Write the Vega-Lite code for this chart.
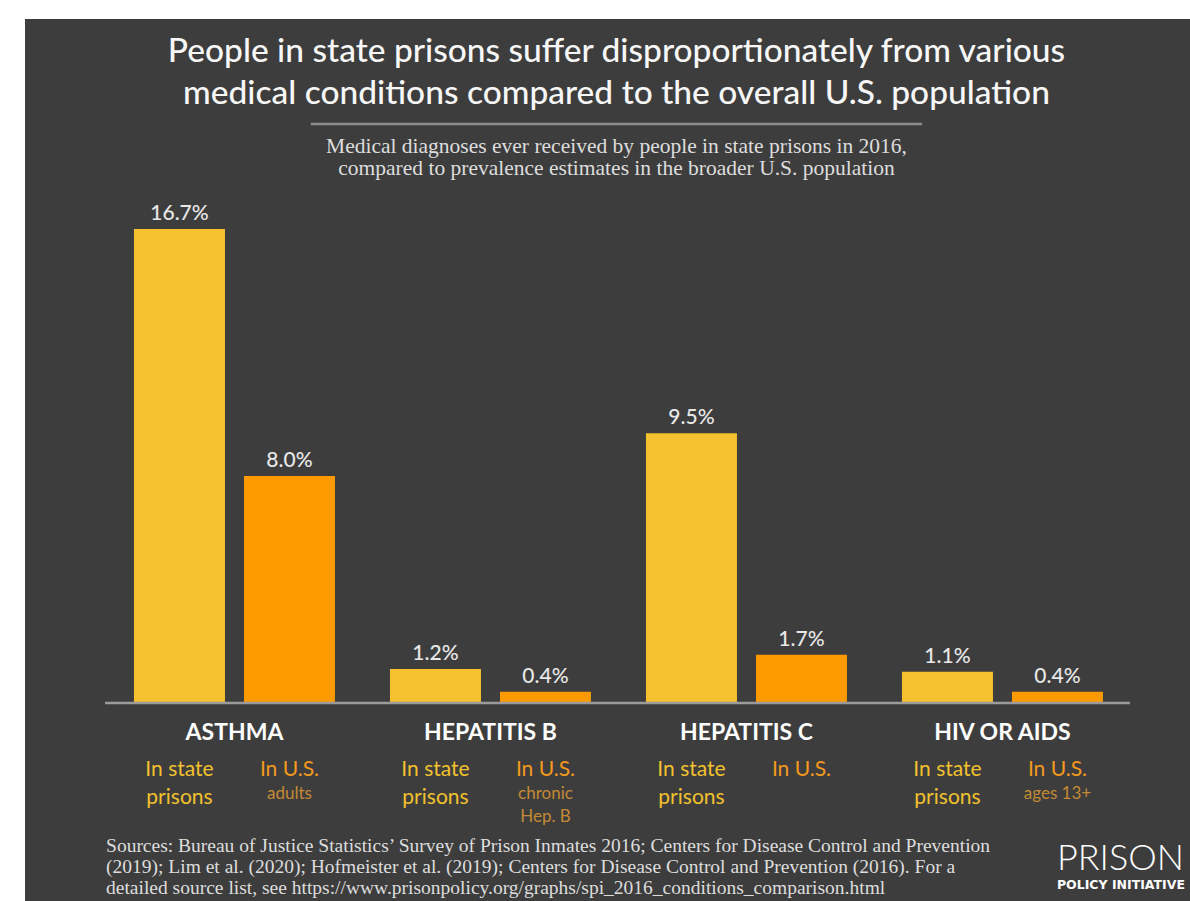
{
  "$schema": "https://vega.github.io/schema/vega-lite/v6.json",
  "width": 1165,
  "height": 882,
  "autosize": {"type": "none"},
  "padding": {"left": 25, "top": 19, "right": 0, "bottom": 0},
  "background": "#ffffff",
  "config": {"view": {"fill": "#3d3d3d", "stroke": null}, "font": "Lato"},
  "title": {
    "text": ["People in state prisons suffer disproportionately from various", "medical conditions compared to the overall U.S. population"],
    "subtitle": ["Medical diagnoses ever received by people in state prisons in 2016,", "compared to prevalence estimates in the broader U.S. population"],
    "anchor": "middle",
    "frame": "group",
    "offset": -161,
    "dx": 9,
    "font": "Lato",
    "fontSize": 33.5,
    "fontWeight": 500,
    "color": "#f7f7f7",
    "lineHeight": 42,
    "subtitleFont": "Liberation Serif",
    "subtitleFontSize": 21.5,
    "subtitleColor": "#dddddd",
    "subtitleLineHeight": 22,
    "subtitlePadding": 24.5
  },
  "data": {
    "values": [
      {"condition": "ASTHMA", "group": "In state prisons", "value": 0.167, "label": "In state\nprisons", "note": ""},
      {"condition": "ASTHMA", "group": "In U.S.", "value": 0.080, "label": "In U.S.", "note": "adults"},
      {"condition": "HEPATITIS B", "group": "In state prisons", "value": 0.012, "label": "In state\nprisons", "note": ""},
      {"condition": "HEPATITIS B", "group": "In U.S.", "value": 0.004, "label": "In U.S.", "note": "chronic\nHep. B"},
      {"condition": "HEPATITIS C", "group": "In state prisons", "value": 0.095, "label": "In state\nprisons", "note": ""},
      {"condition": "HEPATITIS C", "group": "In U.S.", "value": 0.017, "label": "In U.S.", "note": ""},
      {"condition": "HIV OR AIDS", "group": "In state prisons", "value": 0.011, "label": "In state\nprisons", "note": ""},
      {"condition": "HIV OR AIDS", "group": "In U.S.", "value": 0.004, "label": "In U.S.", "note": "ages 13+"}
    ]
  },
  "layer": [
    {
      "data": {"values": [{}]},
      "mark": {"type": "rule", "color": "#8c8c8c", "strokeWidth": 2.5},
      "encoding": {
        "x": {"datum": "ASTHMA", "bandPosition": 0.88, "axis": null},
        "x2": {"datum": "HIV OR AIDS", "bandPosition": 0.1},
        "y": {"datum": 0.204, "axis": null}
      }
    },
    {
      "mark": {"type": "bar"},
      "encoding": {
        "x": {
          "field": "condition",
          "type": "nominal",
          "scale": {"domain": ["ASTHMA", "HEPATITIS B", "HEPATITIS C", "HIV OR AIDS"], "paddingInner": 0.2148, "paddingOuter": 0.3828, "align": 0.556},
          "axis": null
        },
        "xOffset": {"field": "group", "type": "nominal", "scale": {"domain": ["In state prisons", "In U.S."], "paddingInner": 0.1727, "paddingOuter": 0}},
        "y": {"field": "value", "type": "quantitative", "scale": {"domain": [-0.06976, 0.24099], "nice": false, "zero": false}, "axis": null},
        "y2": {"datum": 0},
        "color": {"field": "group", "type": "nominal", "scale": {"domain": ["In state prisons", "In U.S."], "range": ["#F5C12E", "#FD9A00"]}, "legend": null}
      }
    },
    {
      "data": {"values": [{}]},
      "mark": {"type": "rule", "color": "#9b9b9b", "strokeWidth": 2.5},
      "encoding": {
        "x": {"datum": "ASTHMA", "bandPosition": -0.144, "axis": null},
        "x2": {"datum": "HIV OR AIDS", "bandPosition": 1.134},
        "y": {"datum": 0, "axis": null}
      }
    },
    {
      "mark": {"type": "text", "align": "center", "baseline": "alphabetic", "dy": -9, "font": "Lato", "fontSize": 21, "fontWeight": 500, "color": "#e8e8e8"},
      "encoding": {
        "x": {"field": "condition", "type": "nominal", "axis": null},
        "xOffset": {"field": "group", "type": "nominal"},
        "y": {"field": "value", "type": "quantitative", "axis": null},
        "text": {"field": "value", "type": "quantitative", "format": ".1%"}
      }
    },
    {
      "transform": [{"filter": "datum.group === 'In state prisons'"}],
      "mark": {"type": "text", "align": "center", "baseline": "top", "dy": 19, "font": "Lato", "fontSize": 23, "fontWeight": "bold", "color": "#ffffff"},
      "encoding": {
        "x": {"field": "condition", "type": "nominal", "axis": null},
        "y": {"datum": 0, "axis": null},
        "text": {"field": "condition"}
      }
    },
    {
      "mark": {"type": "text", "align": "center", "baseline": "top", "dy": 55.5, "lineBreak": "\n", "lineHeight": 28, "font": "Lato", "fontSize": 21},
      "encoding": {
        "x": {"field": "condition", "type": "nominal", "axis": null},
        "xOffset": {"field": "group", "type": "nominal"},
        "y": {"datum": 0, "axis": null},
        "text": {"field": "label"},
        "color": {"condition": {"test": "datum.group === 'In U.S.'", "value": "#F39A1E"}, "value": "#F2C12E"}
      }
    },
    {
      "mark": {"type": "text", "align": "center", "baseline": "top", "dy": 83, "lineBreak": "\n", "lineHeight": 23, "font": "Lato", "fontSize": 17, "color": "#C48A35"},
      "encoding": {
        "x": {"field": "condition", "type": "nominal", "axis": null},
        "xOffset": {"field": "group", "type": "nominal"},
        "y": {"datum": 0, "axis": null},
        "text": {"field": "note"}
      }
    },
    {
      "data": {"values": [{"t": "Sources: Bureau of Justice Statistics’ Survey of Prison Inmates 2016; Centers for Disease Control and Prevention\n(2019); Lim et al. (2020); Hofmeister et al. (2019); Centers for Disease Control and Prevention (2016). For a\ndetailed source list, see https://www.prisonpolicy.org/graphs/spi_2016_conditions_comparison.html"}]},
      "mark": {"type": "text", "align": "left", "baseline": "top", "lineBreak": "\n", "lineHeight": 21, "font": "Liberation Serif", "fontSize": 19.5, "color": "#dddddd"},
      "encoding": {
        "x": {"datum": "ASTHMA", "bandPosition": -0.139, "axis": null},
        "y": {"datum": -0.04714, "axis": null},
        "text": {"field": "t"}
      }
    },
    {
      "data": {"values": [{"t": "PRISON"}]},
      "mark": {"type": "text", "align": "left", "baseline": "alphabetic", "font": "Lato", "fontSize": 36, "fontWeight": 300, "color": "#ffffff"},
      "encoding": {
        "x": {"datum": "HIV OR AIDS", "bandPosition": 0.771, "axis": null},
        "y": {"datum": -0.05884, "axis": null},
        "text": {"field": "t"}
      }
    },
    {
      "data": {"values": [{"t": "POLICY INITIATIVE"}]},
      "mark": {"type": "text", "align": "left", "baseline": "alphabetic", "font": "DejaVu Sans", "fontSize": 12.5, "fontWeight": "bold", "color": "#ffffff"},
      "encoding": {
        "x": {"datum": "HIV OR AIDS", "bandPosition": 0.771, "axis": null},
        "y": {"datum": -0.06553, "axis": null},
        "text": {"field": "t"}
      }
    }
  ]
}
